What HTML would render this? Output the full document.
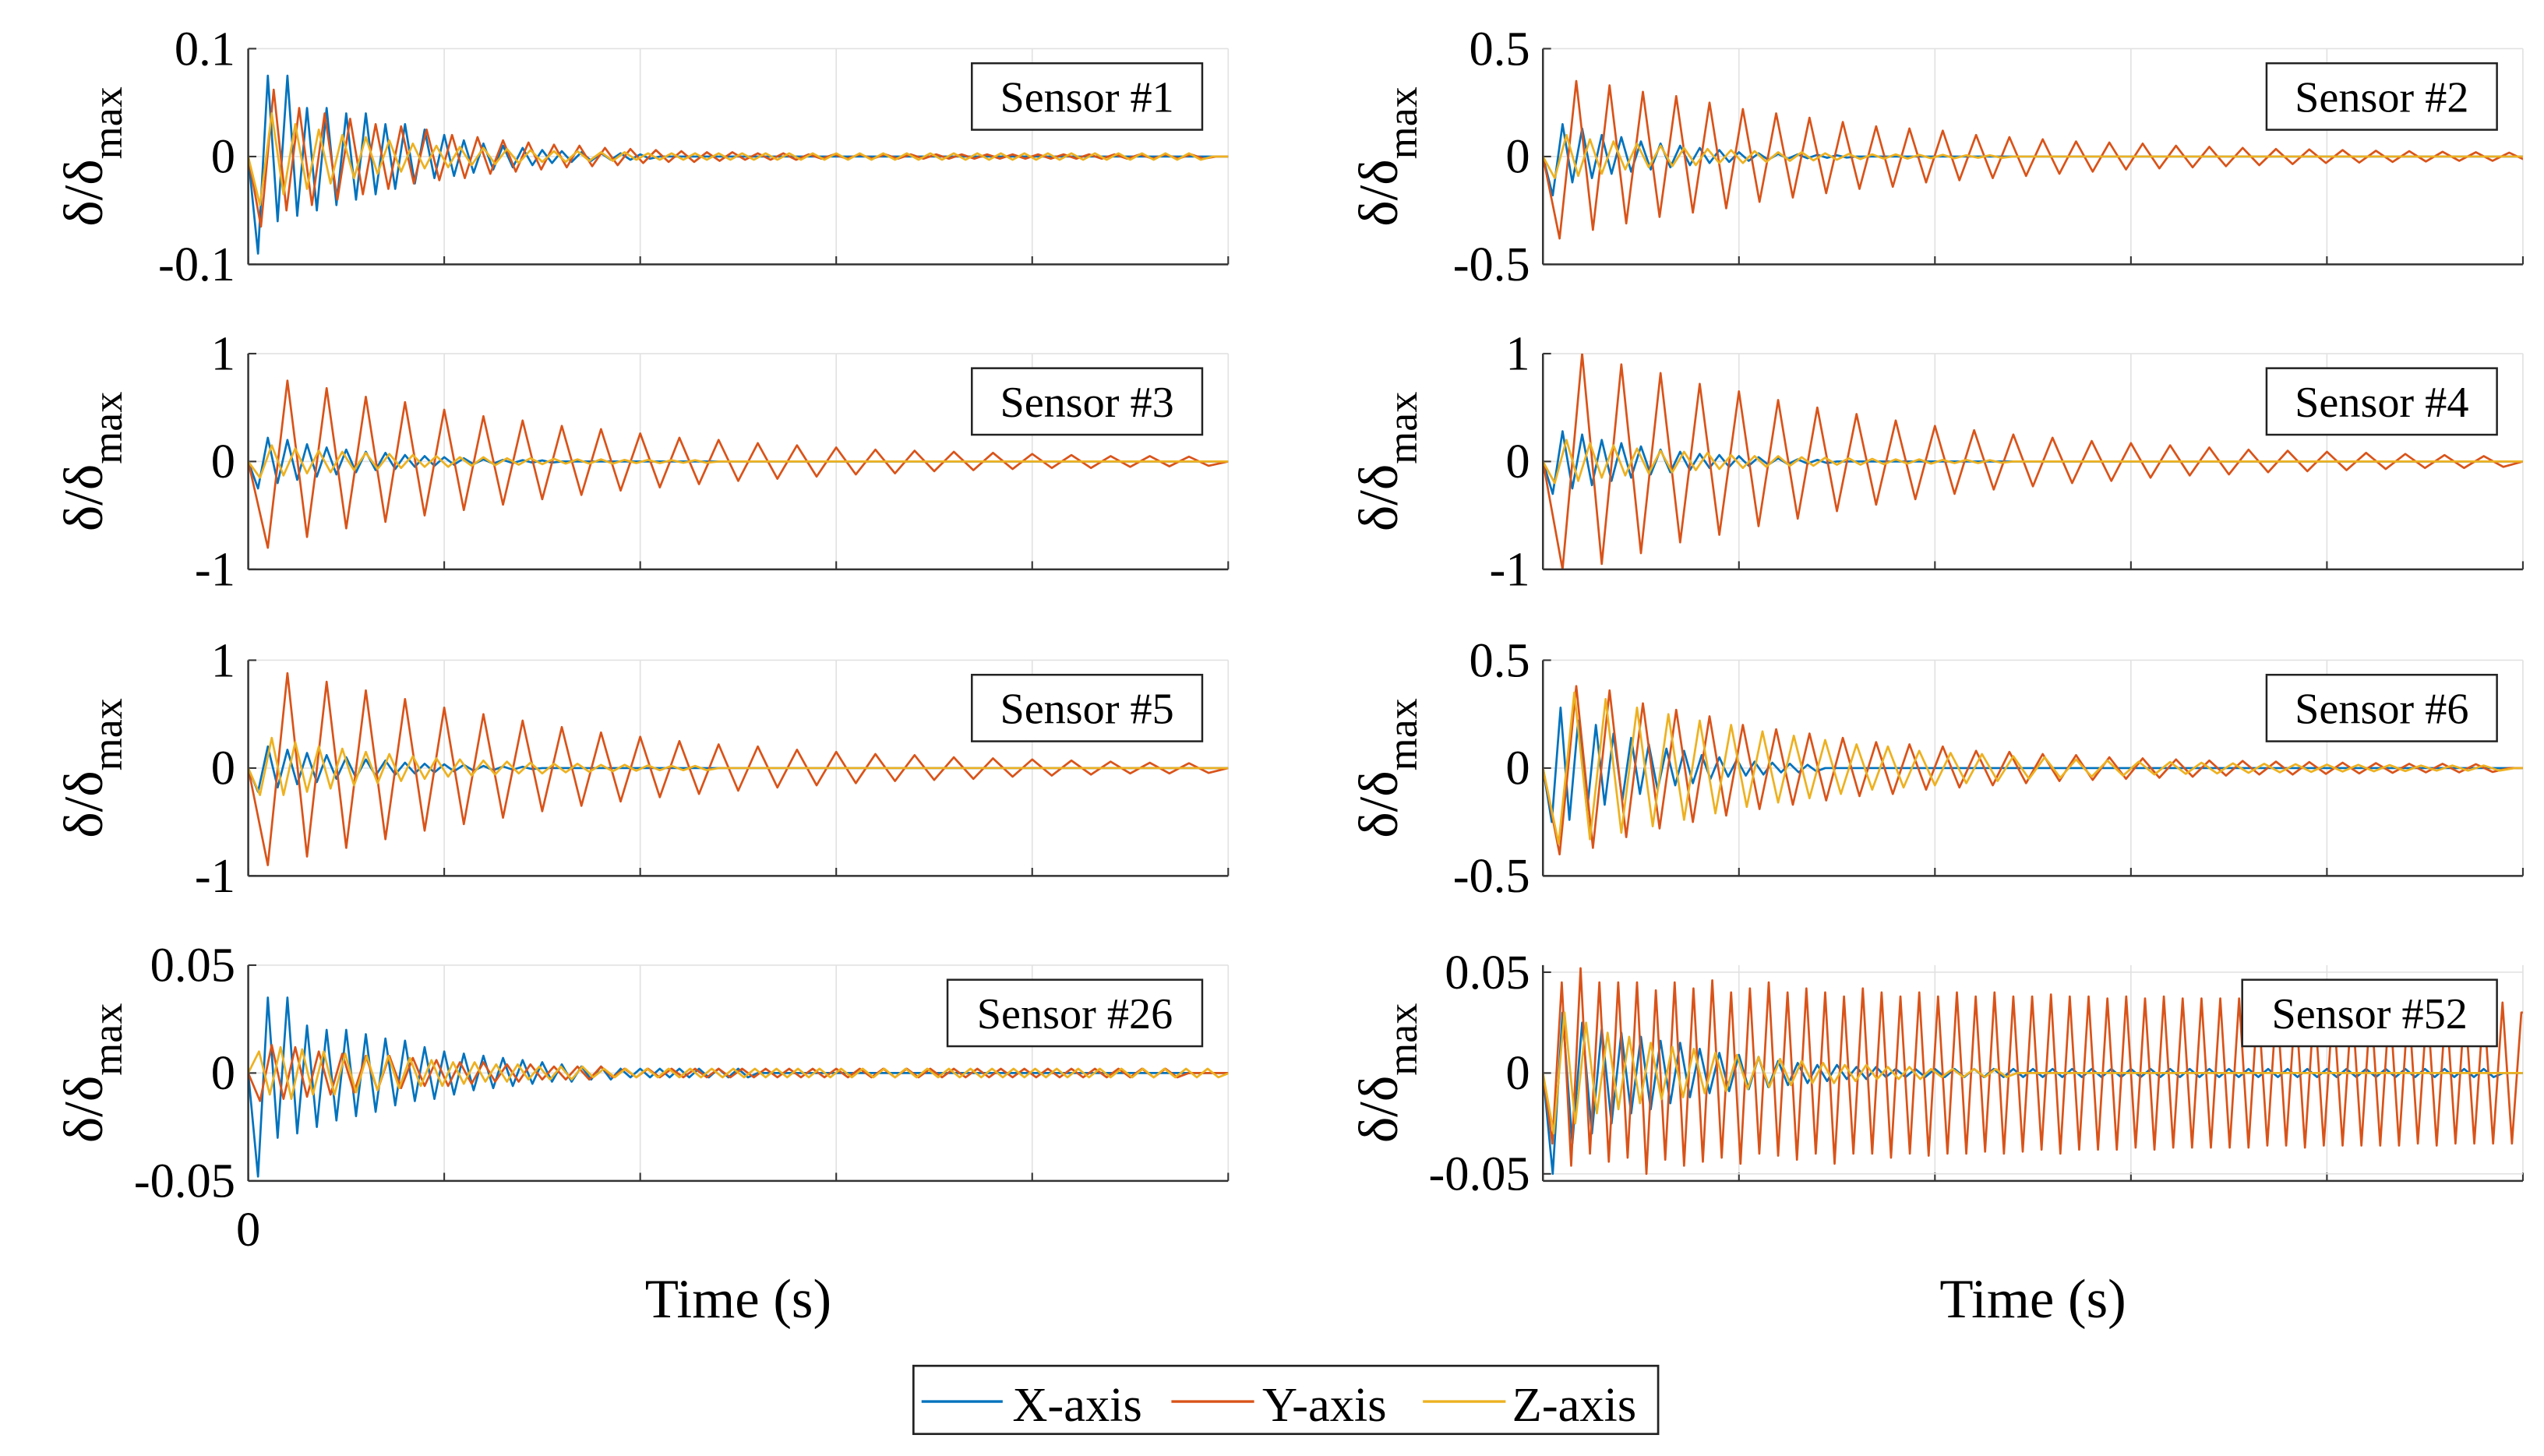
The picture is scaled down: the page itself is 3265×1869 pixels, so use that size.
<!DOCTYPE html>
<html><head><meta charset="utf-8"><style>
html,body{margin:0;padding:0;background:#fff;}
svg{display:block;font-family:"Liberation Serif","DejaVu Serif",serif;}
</style></head><body>
<svg id="chart" width="3265" height="1869" viewBox="0 0 1568 897.6" preserveAspectRatio="none" xmlns="http://www.w3.org/2000/svg">
<g id="panels"></g>
<g><text x="153" y="768" font-size="30" text-anchor="middle">0</text></g>
<text x="455" y="812" font-size="34" text-anchor="middle">Time (s)</text>
<text x="1253" y="812" font-size="34" text-anchor="middle">Time (s)</text>
<g>
<rect x="563" y="842" width="459" height="42" fill="#fff" stroke="#222" stroke-width="1.3"/>
<g><line x1="568" y1="864" x2="618" y2="864" stroke="#0072BD" stroke-width="1.6"/><text x="624" y="876" font-size="30">X-axis</text></g>
<g><line x1="722" y1="864" x2="773" y2="864" stroke="#D95319" stroke-width="1.6"/><text x="778" y="876" font-size="30">Y-axis</text></g>
<g><line x1="877" y1="864" x2="928" y2="864" stroke="#EDB120" stroke-width="1.6"/><text x="932" y="876" font-size="30">Z-axis</text></g>
</g>
</svg>
<script>
const sensorNames = ["Sensor #1","Sensor #2","Sensor #3","Sensor #4","Sensor #5","Sensor #6","Sensor #26","Sensor #52"];
const yLimits = [0.1,0.5,1,1,1,0.5,0.05,0.0535];
const yTicks = [[0.1,0,-0.1],[0.5,0,-0.5],[1,0,-1],[1,0,-1],[1,0,-1],[0.5,0,-0.5],[0.05,0,-0.05],[0.05,0,-0.05]];
const yTickLabels = [["0.1","0","-0.1"],["0.5","0","-0.5"],["1","0","-1"],["1","0","-1"],["1","0","-1"],["0.5","0","-0.5"],["0.05","0","-0.05"],["0.05","0","-0.05"]];
const timeTicks = [0,10,20,30,40,50];
const halfStepX = [0.5,0.5,0.5,0.5,0.5,0.45,0.5,0.5];
const halfStepY = [0.65,0.85,1.0,1.0,1.0,0.85,0.6,0.48];
const halfStepZ = [0.6,0.6,0.6,0.6,0.6,0.8,0.55,0.55];

const s1X=[0,-0.09,0.075,-0.06,0.075,-0.055,0.045,-0.05,0.045,-0.045,0.04,-0.04,0.04,-0.035,0.03,-0.03,0.03,-0.025,0.025,-0.02,0.02,-0.018,0.015,-0.015,0.012,-0.012,0.01,-0.01,0.008,-0.008,0.006,-0.006,0.005,-0.005,0.004,-0.004,0.003,-0.003,0.003,-0.003,0.002,-0.002,0];
const s1Y=[0,-0.065,0.062,-0.05,0.045,-0.045,0.04,-0.04,0.035,-0.035,0.03,-0.03,0.028,-0.025,0.025,-0.022,0.02,-0.02,0.018,-0.016,0.015,-0.014,0.013,-0.012,0.011,-0.01,0.01,-0.009,0.008,-0.008,0.007,-0.006,0.006,-0.005,0.005,-0.005,0.004,-0.004,0.004,-0.003,0.003,-0.003,0.003,-0.003,0.002,-0.002,0.002,-0.002,0.002,-0.002,0.002,-0.002,0.002,-0.002,0.002,-0.002,0.002,-0.002,0.002,-0.002,0.002,-0.002,0.002,-0.002,0.002,-0.002,0.002,-0.002,0.002,-0.002,0.002,-0.002,0.002,-0.002,0.002,-0.002,0];
const s1Z=[0,-0.045,0.04,-0.035,0.03,-0.03,0.025,-0.025,0.02,-0.02,0.018,-0.016,0.015,-0.014,0.012,-0.011,0.01,-0.01,0.009,-0.008,0.008,-0.007,0.007,-0.006,0.006,-0.005,0.005,-0.005,0.005,-0.004,0.004,-0.004,0.004,-0.003,0.003,-0.003,0.003,-0.003,0.003,-0.003,0.003,-0.003,0.003,-0.003,0.003,-0.003,0.003,-0.003,0.003,-0.003,0.003,-0.003,0.003,-0.003,0.003,-0.003,0.003,-0.003,0.003,-0.003,0.003,-0.003,0.003,-0.003,0.003,-0.003,0.003,-0.003,0.003,-0.003,0.003,-0.003,0.003,-0.003,0.003,-0.003,0.003,-0.003,0.003,-0.003,0.003,-0.003,0];
const s2X=[0,-0.18,0.15,-0.12,0.13,-0.1,0.1,-0.08,0.09,-0.07,0.07,-0.06,0.06,-0.05,0.05,-0.04,0.04,-0.03,0.03,-0.025,0.02,-0.02,0.015,-0.015,0.012,-0.01,0.01,-0.008,0.008,-0.006,0.006,-0.005,0];
const s2Y=[0,-0.38,0.35,-0.34,0.33,-0.31,0.3,-0.28,0.28,-0.26,0.25,-0.24,0.22,-0.21,0.2,-0.19,0.18,-0.17,0.16,-0.15,0.14,-0.14,0.13,-0.12,0.12,-0.11,0.1,-0.1,0.09,-0.09,0.08,-0.08,0.07,-0.07,0.065,-0.06,0.06,-0.055,0.05,-0.05,0.045,-0.045,0.04,-0.04,0.035,-0.035,0.033,-0.03,0.03,-0.028,0.027,-0.025,0.025,-0.023,0.022,-0.02,0.02,-0.02,0.018,-0.018,0];
const s2Z=[0,-0.1,0.1,-0.09,0.08,-0.08,0.07,-0.06,0.06,-0.05,0.05,-0.045,0.04,-0.04,0.035,-0.03,0.03,-0.03,0.025,-0.025,0.02,-0.02,0.02,-0.018,0.015,-0.015,0.012,-0.012,0.01,-0.01,0.01,-0.01,0.008,-0.008,0.008,-0.008,0.006,-0.006,0.006,-0.006,0];
const s3X=[0,-0.25,0.22,-0.2,0.2,-0.17,0.16,-0.14,0.13,-0.12,0.11,-0.1,0.09,-0.08,0.08,-0.07,0.06,-0.05,0.05,-0.04,0.04,-0.03,0.03,-0.025,0.02,-0.02,0.015,-0.015,0.012,-0.01,0.01,-0.01,0];
const s3Y=[0,-0.8,0.75,-0.7,0.68,-0.62,0.6,-0.56,0.55,-0.5,0.48,-0.45,0.42,-0.4,0.38,-0.35,0.33,-0.31,0.3,-0.27,0.26,-0.24,0.22,-0.21,0.2,-0.18,0.17,-0.16,0.15,-0.14,0.13,-0.12,0.11,-0.11,0.1,-0.09,0.09,-0.08,0.08,-0.07,0.07,-0.06,0.06,-0.06,0.05,-0.05,0.05,-0.045,0.045,-0.04,0];
const s3Z=[0,-0.15,0.15,-0.13,0.12,-0.11,0.1,-0.1,0.09,-0.08,0.08,-0.07,0.07,-0.06,0.06,-0.05,0.05,-0.05,0.04,-0.04,0.04,-0.035,0.03,-0.03,0.03,-0.025,0.025,-0.02,0.02,-0.02,0.02,-0.02,0.015,-0.015,0.015,-0.015,0.012,-0.012,0.012,-0.012,0];
const s4X=[0,-0.3,0.28,-0.25,0.25,-0.22,0.2,-0.18,0.17,-0.15,0.14,-0.12,0.11,-0.1,0.09,-0.08,0.07,-0.06,0.06,-0.05,0.05,-0.04,0.04,-0.03,0.03,-0.025,0.02,-0.02,0.015,-0.015,0];
const s4Y=[0,-1.0,1.0,-0.95,0.9,-0.85,0.82,-0.75,0.72,-0.68,0.65,-0.6,0.57,-0.53,0.5,-0.46,0.44,-0.4,0.38,-0.35,0.33,-0.3,0.29,-0.26,0.25,-0.23,0.22,-0.2,0.19,-0.18,0.17,-0.15,0.15,-0.13,0.13,-0.12,0.11,-0.1,0.1,-0.09,0.09,-0.08,0.08,-0.07,0.07,-0.06,0.06,-0.06,0.05,-0.05,0];
const s4Z=[0,-0.2,0.2,-0.18,0.17,-0.15,0.15,-0.13,0.12,-0.11,0.1,-0.1,0.09,-0.08,0.08,-0.07,0.06,-0.06,0.05,-0.05,0.05,-0.04,0.04,-0.04,0.035,-0.03,0.03,-0.03,0.025,-0.025,0.02,-0.02,0.02,-0.02,0.015,-0.015,0.015,-0.015,0.012,-0.012,0];
const s5X=[0,-0.22,0.2,-0.18,0.17,-0.15,0.14,-0.13,0.12,-0.1,0.1,-0.09,0.08,-0.07,0.07,-0.06,0.05,-0.05,0.04,-0.04,0.035,-0.03,0.03,-0.025,0.02,-0.02,0.015,-0.015,0.012,-0.01,0];
const s5Y=[0,-0.9,0.88,-0.82,0.8,-0.74,0.72,-0.66,0.64,-0.58,0.56,-0.52,0.5,-0.46,0.44,-0.4,0.38,-0.35,0.33,-0.31,0.29,-0.27,0.25,-0.24,0.22,-0.21,0.2,-0.18,0.17,-0.16,0.15,-0.14,0.13,-0.12,0.12,-0.11,0.1,-0.1,0.09,-0.08,0.08,-0.07,0.07,-0.06,0.06,-0.05,0.05,-0.05,0.045,-0.045,0];
const s5Z=[0,-0.25,0.28,-0.25,0.24,-0.22,0.2,-0.19,0.18,-0.16,0.15,-0.14,0.13,-0.12,0.11,-0.1,0.09,-0.08,0.08,-0.07,0.07,-0.06,0.06,-0.05,0.05,-0.05,0.04,-0.04,0.04,-0.035,0.03,-0.03,0.03,-0.025,0.025,-0.02,0.02,-0.02,0.02,-0.02,0];
const s6X=[0,-0.25,0.28,-0.24,0.22,-0.2,0.2,-0.17,0.16,-0.15,0.14,-0.12,0.11,-0.1,0.09,-0.08,0.08,-0.07,0.06,-0.05,0.05,-0.04,0.04,-0.035,0.03,-0.03,0.025,-0.02,0.02,-0.02,0.015,-0.015,0];
const s6Y=[0,-0.4,0.38,-0.37,0.36,-0.32,0.3,-0.28,0.27,-0.25,0.24,-0.22,0.2,-0.19,0.18,-0.17,0.16,-0.15,0.14,-0.13,0.12,-0.12,0.11,-0.1,0.1,-0.09,0.08,-0.08,0.075,-0.07,0.065,-0.06,0.06,-0.055,0.05,-0.05,0.045,-0.045,0.04,-0.04,0.035,-0.035,0.033,-0.03,0.03,-0.03,0.028,-0.027,0.025,-0.025,0.023,-0.022,0.02,-0.02,0.02,-0.02,0.018,-0.018,0];
const s6Z=[0,-0.35,0.35,-0.33,0.32,-0.3,0.28,-0.27,0.25,-0.24,0.22,-0.21,0.2,-0.18,0.17,-0.16,0.15,-0.14,0.13,-0.12,0.11,-0.1,0.1,-0.09,0.08,-0.08,0.07,-0.07,0.065,-0.06,0.055,-0.05,0.05,-0.045,0.04,-0.04,0.035,-0.035,0.03,-0.03,0.028,-0.027,0.025,-0.025,0.022,-0.022,0.02,-0.02,0.018,-0.018,0.016,-0.016,0.015,-0.015,0.014,-0.014,0.012,-0.012,0.012,-0.012,0.012,-0.012,0];
const s7X=[0,-0.048,0.035,-0.03,0.035,-0.028,0.022,-0.025,0.02,-0.022,0.02,-0.02,0.018,-0.018,0.016,-0.015,0.015,-0.013,0.012,-0.012,0.01,-0.01,0.009,-0.008,0.008,-0.007,0.007,-0.006,0.006,-0.005,0.005,-0.004,0.004,-0.004,0.003,-0.003,0.003,-0.003,0.002,-0.002,0.002,-0.002,0.002,-0.002,0.002,-0.002,0.002,-0.002,0.002,-0.002,0.002,-0.002,0];
const s7Y=[0,-0.013,0.013,-0.012,0.012,-0.011,0.01,-0.01,0.009,-0.009,0.008,-0.008,0.008,-0.007,0.007,-0.006,0.006,-0.006,0.005,-0.005,0.005,-0.004,0.004,-0.004,0.004,-0.003,0.003,-0.003,0.003,-0.003,0.003,-0.002,0.002,-0.002,0.002,-0.002,0.002,-0.002,0.002,-0.002,0.002,-0.002,0.002,-0.002,0.002,-0.002,0.002,-0.002,0.002,-0.002,0.002,-0.002,0.002,-0.002,0.002,-0.002,0.002,-0.002,0.002,-0.002,0.002,-0.002,0.002,-0.002,0.002,-0.002,0.002,-0.002,0.002,-0.002,0.002,-0.002,0.002,-0.002,0.002,-0.002,0.002,-0.002,0.002,-0.002,0];
const s7Z=[0,0.01,-0.01,0.012,-0.012,0.011,-0.01,0.01,-0.01,0.009,-0.009,0.008,-0.008,0.008,-0.007,0.007,-0.006,0.006,-0.006,0.005,-0.005,0.005,-0.004,0.004,-0.004,0.004,-0.003,0.003,-0.003,0.003,-0.003,0.003,-0.002,0.002,-0.002,0.002,-0.002,0.002,-0.002,0.002,-0.002,0.002,-0.002,0.002,-0.002,0.002,-0.002,0.002,-0.002,0.002,-0.002,0.002,-0.002,0.002,-0.002,0.002,-0.002,0.002,-0.002,0.002,-0.002,0.002,-0.002,0.002,-0.002,0.002,-0.002,0.002,-0.002,0.002,-0.002,0.002,-0.002,0.002,-0.002,0.002,-0.002,0.002,-0.002,0.002,-0.002,0.002,-0.002,0.002,-0.002,0.002,-0.002,0.002,-0.002,0.002,-0.002,0];
const s8X=[0,-0.05,0.03,-0.035,0.025,-0.03,0.022,-0.025,0.02,-0.02,0.018,-0.018,0.016,-0.015,0.015,-0.012,0.012,-0.01,0.01,-0.009,0.009,-0.008,0.008,-0.007,0.006,-0.006,0.005,-0.005,0.004,-0.004,0.004,-0.003,0.003,-0.003,0.003,-0.002,0.002,-0.002,0.002,-0.002,0.002,-0.002,0.002,-0.002,0.002,-0.002,0.002,-0.002,0.002,-0.002,0.002,-0.002,0.002,-0.002,0.002,-0.002,0.002,-0.002,0.002,-0.002,0.002,-0.002,0.002,-0.002,0.002,-0.002,0.002,-0.002,0.002,-0.002,0.002,-0.002,0.002,-0.002,0.002,-0.002,0.002,-0.002,0.002,-0.002,0.002,-0.002,0.002,-0.002,0.002,-0.002,0.002,-0.002,0.002,-0.002,0.002,-0.002,0.002,-0.002,0.002,-0.002,0.002,-0.002,0];
const s8Y=[0,-0.035,0.045,-0.046,0.052,-0.04,0.045,-0.044,0.045,-0.042,0.045,-0.05,0.041,-0.043,0.045,-0.046,0.042,-0.044,0.046,-0.042,0.04,-0.045,0.042,-0.04,0.045,-0.041,0.04,-0.043,0.042,-0.04,0.04,-0.045,0.038,-0.04,0.042,-0.04,0.04,-0.042,0.038,-0.04,0.04,-0.041,0.038,-0.04,0.04,-0.04,0.038,-0.039,0.04,-0.04,0.038,-0.039,0.038,-0.038,0.039,-0.04,0.038,-0.038,0.038,-0.038,0.037,-0.038,0.038,-0.037,0.037,-0.038,0.038,-0.037,0.037,-0.037,0.037,-0.037,0.037,-0.037,0.037,-0.037,0.037,-0.036,0.037,-0.036,0.036,-0.037,0.036,-0.036,0.036,-0.036,0.036,-0.036,0.036,-0.036,0.036,-0.036,0.036,-0.035,0.035,-0.036,0.036,-0.035,0.035,-0.035,0.035,-0.035,0.035,-0.035,0.03];
const s8Z=[0,-0.03,0.03,-0.025,0.025,-0.02,0.02,-0.018,0.018,-0.015,0.015,-0.013,0.013,-0.012,0.012,-0.01,0.01,-0.009,0.009,-0.008,0.008,-0.007,0.007,-0.006,0.006,-0.005,0.005,-0.005,0.004,-0.004,0.004,-0.003,0.003,-0.003,0.003,-0.003,0.002,-0.002,0.002,-0.002,0.002,-0.002,0.002,-0.002,0];

const seriesX=[s1X,s2X,s3X,s4X,s5X,s6X,s7X,s8X];
const seriesY=[s1Y,s2Y,s3Y,s4Y,s5Y,s6Y,s7Y,s8Y];
const seriesZ=[s1Z,s2Z,s3Z,s4Z,s5Z,s6Z,s7Z,s8Z];

const NS="http://www.w3.org/2000/svg";
const panelLefts=[153,951], panelTops=[30,218,407,595], PW=604, PH=133, TMAX=50;
const colors=["#0072BD","#D95319","#EDB120"];
const root=document.getElementById('panels');
function mk(tag,attrs,parent){const e=document.createElementNS(NS,tag);for(const k in attrs)e.setAttribute(k,attrs[k]);parent.appendChild(e);return e;}

for(let p=0;p<8;p++){
  const x0=panelLefts[p%2], y0=panelTops[Math.floor(p/2)], lim=yLimits[p];
  const xs=t=>x0+t/TMAX*PW;
  const ys=v=>y0+PH/2-v/lim*PH/2;
  const g=mk('g',{},root);
  
  
  mk('rect',{x:x0,y:y0,width:PW,height:PH,fill:'#fff'},g);
  timeTicks.forEach(t=>{
    const l=mk('line',{x1:xs(t),x2:xs(t),y1:y0,y2:y0+PH,stroke:'#e2e2e2','stroke-width':0.8},g);
    
    
    mk('line',{x1:xs(t),x2:xs(t),y1:y0+PH,y2:y0+PH-5,stroke:'#333','stroke-width':1},g);
  });
  yTicks[p].forEach((v,i)=>{
    const l=mk('line',{x1:x0,x2:x0+PW,y1:ys(v),y2:ys(v),stroke:'#e2e2e2','stroke-width':0.8},g);
    
    
    mk('line',{x1:x0,x2:x0+5,y1:ys(v),y2:ys(v),stroke:'#333','stroke-width':1},g);
    const tx=mk('text',{x:x0-8,y:ys(v)+10,'font-size':30,'text-anchor':'end'},g);
    tx.textContent=yTickLabels[p][i];
    
    
  });
  const clipId='clip'+p;
  const cp=mk('clipPath',{id:clipId},g);
  mk('rect',{x:x0,y:y0,width:PW,height:PH},cp);
  const data=[seriesX[p],seriesY[p],seriesZ[p]], steps=[halfStepX[p],halfStepY[p],halfStepZ[p]];
  const names=['x-axis-series','y-axis-series','z-axis-series'];
  for(let s=0;s<3;s++){
    const arr=data[s];
    let d='';
    arr.forEach((v,i)=>{d+=(i?'L':'M')+xs(i*steps[s]).toFixed(2)+','+ys(v).toFixed(2);});
    const tEnd=(arr.length-1)*steps[s];
    if(tEnd<TMAX) d+='L'+xs(TMAX).toFixed(2)+','+ys(arr[arr.length-1]).toFixed(2);
    const path=mk('path',{d:d,fill:'none',stroke:colors[s],'stroke-width':1.3,'stroke-linejoin':'round','clip-path':'url(#'+clipId+')'},g);
    
    
  }
  mk('line',{x1:x0,x2:x0+PW,y1:y0+PH,y2:y0+PH,stroke:'#333','stroke-width':1.2},g);
  mk('line',{x1:x0,x2:x0,y1:y0,y2:y0+PH,stroke:'#333','stroke-width':1.2},g);
  const lg=mk('g',{},g);
  
  
  const bw=sensorNames[p].length>9?157:142;
  const bx=x0+PW-16-bw;
  mk('rect',{x:bx,y:y0+9,width:bw,height:41,fill:'#fff',stroke:'#222','stroke-width':1.2},lg);
  const lt=mk('text',{x:bx+bw/2,y:y0+39,'font-size':27,'text-anchor':'middle'},lg);
  lt.textContent=sensorNames[p];
  const yl=mk('text',{transform:'translate('+(x0-90)+','+(y0+PH/2)+') rotate(-90)','font-size':34,'text-anchor':'middle'},g);
  
  
  const t1=mk('tspan',{},yl); t1.textContent='δ/δ';
  const t2=mk('tspan',{dy:12,'font-size':26},yl); t2.textContent='max';
}
</script>
</body></html>
